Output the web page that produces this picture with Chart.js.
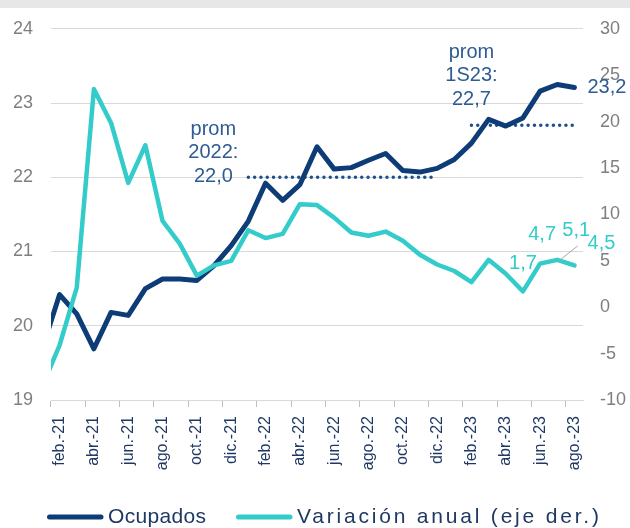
<!DOCTYPE html>
<html>
<head>
<meta charset="utf-8">
<script src="https://cdn.jsdelivr.net/npm/chart.js@4.4.1/dist/chart.umd.min.js"></script>
<style>
  html, body { margin: 0; padding: 0; background: #fff; }
  #wrap { position: relative; width: 630px; height: 528px; overflow: hidden; }
  #band { position: absolute; left: 0; top: 0; width: 630px; height: 8px; background: #e7e7e7; }
</style>
</head>
<body>
<div id="wrap">
  <canvas id="empleo" width="630" height="528"></canvas>
  <div id="band"></div>
</div>
<script>
// meses (ene.-21 solo sirve para el tramo que entra por la izquierda)
var meses = ['ene.-21','feb.-21','mar.-21','abr.-21','may.-21','jun.-21','jul.-21','ago.-21','sep.-21','oct.-21','nov.-21','dic.-21',
             'ene.-22','feb.-22','mar.-22','abr.-22','may.-22','jun.-22','jul.-22','ago.-22','sep.-22','oct.-22','nov.-22','dic.-22',
             'ene.-23','feb.-23','mar.-23','abr.-23','may.-23','jun.-23','jul.-23','ago.-23'];

// ocupados (millones, eje izq.)
var ocupados = [19.70, 20.42, 20.16, 19.69, 20.18, 20.14, 20.50, 20.63, 20.63, 20.61, 20.81, 21.08,
                21.41, 21.92, 21.69, 21.90, 22.41, 22.11, 22.13, 22.23, 22.32, 22.09, 22.07, 22.12,
                22.24, 22.46, 22.78, 22.69, 22.80, 23.16, 23.25, 23.21];

// variación anual % (eje der.)
var variacion = [-8.5, -4.1, 2.1, 23.5, 19.85, 13.4, 17.45, 9.3, 6.85, 3.4, 4.5, 5.0,
                 8.3, 7.45, 7.9, 11.1, 11.0, 9.65, 8.05, 7.7, 8.15, 7.15, 5.65, 4.6,
                 3.9, 2.7, 5.1, 3.6, 1.7, 4.7, 5.1, 4.5];

var ticksIzq = [19, 20, 21, 22, 23, 24];
var ticksDer = [-10, -5, 0, 5, 10, 15, 20, 25, 30];

// promedios
var promedios = [
  { texto: ['prom', '2022:', '22,0'], valor: 22.0, desde: 'ene.-22', hasta: 'dic.-22' },
  { texto: ['prom', '1S23:', '22,7'], valor: 22.7, desde: 'feb.-23', hasta: 'ago.-23' }
];

var AZUL = '#0d3c77';
var TURQ = '#34cbcb';
var AZUL_TXT = '#2f5b94';
var GRIS = '#7f7f7f';
var FUENTE = '"Liberation Sans", Arial, sans-serif';

function lineaPromedio(p) {
  var a = meses.indexOf(p.desde), b = meses.indexOf(p.hasta);
  return meses.map(function (m, i) { return (i >= a && i <= b) ? p.valor : null; });
}

function coma(v) { return v.toFixed(1).replace('.', ','); }

var etiquetas = {
  id: 'etiquetas',
  afterDatasetsDraw: function (chart) {
    var ctx = chart.ctx;
    var x = chart.scales.x, y = chart.scales.y, y1 = chart.scales.y1;
    ctx.save();
    ctx.font = '20px ' + FUENTE;
    ctx.textAlign = 'center';
    ctx.textBaseline = 'middle';
    ctx.fillStyle = AZUL_TXT;

    // textos de promedios
    var offs = [{ dx: -35, dy: -1 }, { dx: 0, dy: -26 }];
    promedios.forEach(function (p, k) {
      var px = x.getPixelForValue(meses.indexOf(p.desde)) + offs[k].dx;
      var py = y.getPixelForValue(p.valor) + offs[k].dy;
      for (var j = 0; j < p.texto.length; j++) {
        ctx.fillText(p.texto[j], px, py - (p.texto.length - 1 - j) * 23.5);
      }
    });

    // último dato de ocupados
    var n = meses.length - 1;
    ctx.textAlign = 'left';
    ctx.fillText(coma(ocupados[n]), x.getPixelForValue(n) + 13, y.getPixelForValue(ocupados[n]));

    // últimos datos de variación
    ctx.fillStyle = TURQ;
    ctx.textAlign = 'center';
    var marcas = [
      { mes: 'may.-23', dx: 0, dy: -28 },
      { mes: 'jun.-23', dx: 2, dy: -29 },
      { mes: 'jul.-23', dx: 19, dy: -29, guia: true },
      { mes: 'ago.-23', dx: 27, dy: -22 }
    ];
    marcas.forEach(function (m) {
      var i = meses.indexOf(m.mes);
      var px = x.getPixelForValue(i), py = y1.getPixelForValue(variacion[i]);
      if (m.guia) {
        ctx.strokeStyle = '#a6a6a6';
        ctx.lineWidth = 1;
        ctx.beginPath();
        ctx.moveTo(px + 20.5, py - 14);
        ctx.lineTo(px + 1, py + 1.5);
        ctx.stroke();
      }
      ctx.fillText(coma(variacion[i]), px + m.dx, py + m.dy);
    });
    ctx.restore();
  }
};

// leyenda dibujada a mano, para poder ajustar la separación
var anchosLeyenda = [98, 302];
var leyenda = {
  id: 'leyenda',
  afterDraw: function (chart) {
    var ctx = chart.ctx;
    var yl = 517, xl = 47;
    ctx.save();
    ctx.font = '21px ' + FUENTE;
    ctx.textBaseline = 'middle';
    ctx.textAlign = 'left';
    [0, 1].forEach(function (i) {
      var ds = chart.data.datasets[i];
      ctx.strokeStyle = ds.borderColor;
      ctx.lineWidth = 5;
      ctx.lineCap = 'round';
      ctx.beginPath();
      ctx.moveTo(xl + 2.5, yl);
      ctx.lineTo(xl + 54, yl);
      ctx.stroke();
      ctx.fillStyle = '#1f3864';
      ctx.letterSpacing = '0px';
      var w = ctx.measureText(ds.label).width;
      var extra = Math.max(0, (anchosLeyenda[i] - w) / (ds.label.length - 1));
      ctx.letterSpacing = extra.toFixed(2) + 'px';
      ctx.fillText(ds.label, xl + 61, yl);
      xl += 61 + anchosLeyenda[i] + 30;
    });
    ctx.restore();
  }
};

Chart.defaults.font.family = FUENTE;

var ctx = document.getElementById('empleo');
var chart = new Chart(ctx, {
  type: 'line',
  data: {
    labels: meses,
    datasets: [
      {
        label: 'Ocupados',
        data: ocupados,
        yAxisID: 'y',
        borderColor: AZUL,
        backgroundColor: AZUL,
        borderWidth: 5,
        borderCapStyle: 'round',
        borderJoinStyle: 'round',
        pointRadius: 0,
        order: 1,
        clip: { left: 0, top: 10, right: 10, bottom: 10 }
      },
      {
        label: 'Variación anual (eje der.)',
        data: variacion,
        yAxisID: 'y1',
        borderColor: TURQ,
        backgroundColor: TURQ,
        borderWidth: 4.5,
        borderCapStyle: 'round',
        borderJoinStyle: 'round',
        pointRadius: 0,
        order: 0,
        clip: { left: 0, top: 10, right: 10, bottom: 10 }
      },
      {
        label: 'prom 2022',
        data: lineaPromedio(promedios[0]),
        yAxisID: 'y',
        borderColor: '#1f4e8c',
        borderWidth: 3.5,
        borderDash: [0, 6.3],
        borderCapStyle: 'round',
        pointRadius: 0,
        order: 2
      },
      {
        label: 'prom 1S23',
        data: lineaPromedio(promedios[1]),
        yAxisID: 'y',
        borderColor: '#1f4e8c',
        borderWidth: 3.5,
        borderDash: [0, 6.3],
        borderCapStyle: 'round',
        pointRadius: 0,
        order: 2
      }
    ]
  },
  options: {
    responsive: false,
    animation: false,
    devicePixelRatio: 1,
    events: [],
    layout: { padding: { top: 27, left: 0, right: 0, bottom: 51.5 } },
    scales: {
      x: {
        type: 'category',
        min: 'feb.-21',
        offset: true,
        grid: {
          offset: true,
          drawOnChartArea: false,
          drawTicks: true,
          tickLength: 7,
          color: function (c) { return c.index % 2 === 0 ? '#bfbfbf' : 'rgba(0,0,0,0)'; }
        },
        border: { display: true, color: '#d9d9d9' },
        ticks: {
          autoSkip: false,
          maxRotation: 90,
          minRotation: 90,
          padding: 9,
          color: '#1f3864',
          font: { size: 16 },
          callback: function (v, i) { return i % 2 === 0 ? this.getLabelForValue(v) : ''; }
        },
        afterFit: function (s) { s.height = 76.5; }
      },
      y: {
        position: 'left',
        min: 19,
        max: 24,
        afterBuildTicks: function (s) { s.ticks = ticksIzq.map(function (v) { return { value: v }; }); },
        grid: { color: '#d9d9d9', drawTicks: false },
        border: { display: false },
        ticks: { color: GRIS, font: { size: 18 }, padding: 18 },
        afterFit: function (s) { s.width = 51; }
      },
      y1: {
        position: 'right',
        min: -10,
        max: 30,
        afterBuildTicks: function (s) { s.ticks = ticksDer.map(function (v) { return { value: v }; }); },
        grid: { display: false, drawTicks: false },
        border: { display: false },
        ticks: { color: GRIS, font: { size: 18 }, padding: 17 },
        afterFit: function (s) { s.width = 47; }
      }
    },
    plugins: {
      tooltip: { enabled: false },
      legend: { display: false }
    }
  },
  plugins: [etiquetas, leyenda]
});
</script>
</body>
</html>
